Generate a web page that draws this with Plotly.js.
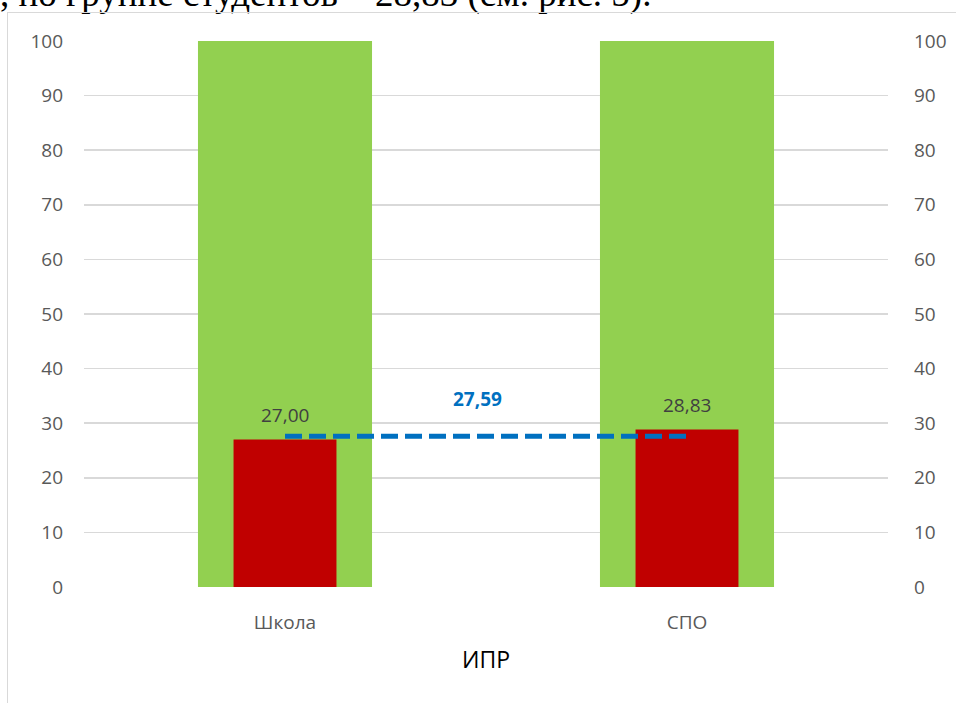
<!DOCTYPE html>
<html>
<head>
<meta charset="utf-8">
<script src="https://cdn.plot.ly/plotly-3.0.1.min.js"></script>
<style>
  html, body { margin: 0; padding: 0; background: #ffffff; overflow: hidden; }
  #wrap { position: relative; width: 956px; height: 703px; overflow: hidden; }
  #topText { position: absolute; left: 0px; top: -25px; font-family: "Liberation Serif", "Times New Roman", serif; font-size: 37px; line-height: 37px; color: #000; white-space: nowrap; }
  #frame { position: absolute; left: 7px; top: 12px; width: 1200px; height: 1200px; border: 1.5px solid #d9d9d9; box-sizing: border-box; }
  #chart { position: absolute; left: 0; top: 0; width: 956px; height: 703px; }
</style>
</head>
<body>
<div id="wrap">
  <div id="topText">, по группе студентов – 28,83 (см. рис. 5).</div>
  <div id="frame"></div>
  <div id="chart"></div>
</div>
<script>
const categories = ["Школа", "СПО"];
const maxValues = [100, 100];
const ipValues = [27.00, 28.83];
const averageValue = 27.59;
const averageLine = [averageValue, averageValue];
const yTicks = [0, 10, 20, 30, 40, 50, 60, 70, 80, 90, 100];
const xAxisTitle = "ИПР";

const fmt = v => v.toFixed(2).replace(".", ",");

const traces = [
  {
    type: "bar", x: categories, y: maxValues, width: 0.433,
    marker: { color: "#92D050" }, hoverinfo: "skip", showlegend: false
  },
  {
    type: "bar", x: categories, y: ipValues, width: 0.256,
    marker: { color: "#C00000" }, hoverinfo: "skip", showlegend: false
  },
  {
    type: "scatter", mode: "lines", x: categories, y: averageLine,
    line: { color: "#0070C0", width: 5, dash: "17px,7px" },
    hoverinfo: "skip", showlegend: false
  },
  {
    type: "scatter", mode: "markers", x: categories, y: [0, 0], yaxis: "y2",
    marker: { opacity: 0 }, hoverinfo: "skip", showlegend: false
  }
];

const annotations = ipValues.map((v, i) => ({
  x: categories[i], y: v, xref: "x", yref: "y",
  text: fmt(v), showarrow: false, yanchor: "middle", yshift: 25,
  font: { family: "Open Sans", size: 19, color: "#404040" }
}));
annotations.push({
  x: 0.48, y: averageValue, xref: "x", yref: "y",
  text: "<b>" + fmt(averageValue) + "</b>", showarrow: false, yanchor: "middle", yshift: 37,
  font: { family: "Open Sans", size: 19, color: "#0070C0" }
});

const tickFont = { family: "Open Sans", size: 19, color: "#595959" };

const layout = {
  width: 956, height: 703,
  margin: { l: 84, r: 68, t: 41, b: 116 },
  paper_bgcolor: "rgba(0,0,0,0)", plot_bgcolor: "rgba(0,0,0,0)",
  barmode: "overlay",
  separators: ", ",
  xaxis: {
    type: "category", range: [-0.5, 1.5],
    showgrid: false, zeroline: false, showline: false, ticks: "",
    tickfont: tickFont, ticklabelstandoff: 22,
    title: { text: xAxisTitle, font: { family: "Open Sans", size: 23, color: "#000000" }, standoff: 17 }
  },
  yaxis: {
    range: [0, 100], tickvals: yTicks, ticktext: yTicks.map(String),
    showgrid: true, gridcolor: "#d9d9d9", gridwidth: 1.5,
    zeroline: false, showline: false, ticks: "",
    tickfont: tickFont, ticklabelstandoff: 20
  },
  yaxis2: {
    range: [0, 100], tickvals: yTicks, ticktext: yTicks.map(String),
    overlaying: "y", side: "right", showgrid: false, zeroline: false, showline: false, ticks: "",
    tickfont: tickFont, ticklabelstandoff: 25
  },
  annotations: annotations
};

Plotly.newPlot("chart", traces, layout, { staticPlot: true, displayModeBar: false });
</script>
</body>
</html>
